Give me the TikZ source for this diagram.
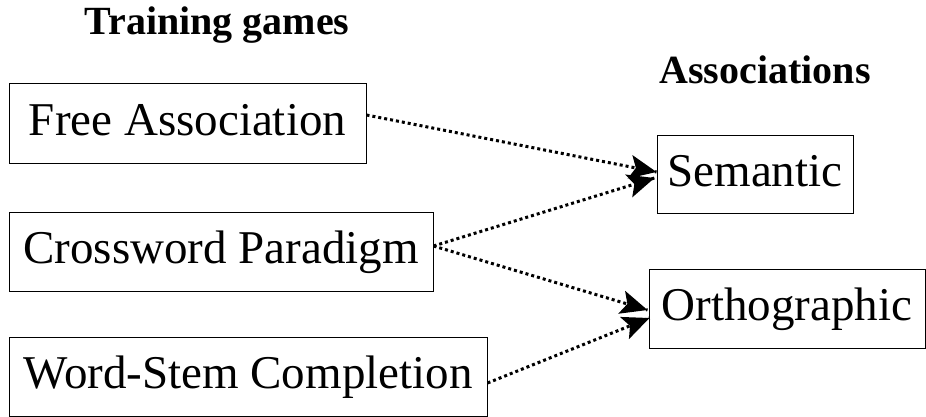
\documentclass[tikz,border=0pt]{standalone}
\usepackage{fontspec}
\setmainfont{Liberation Serif}
\usetikzlibrary{decorations.markings}
\begin{document}
\begin{tikzpicture}[x=1pt,y=1pt,
  gamebox/.style={draw, line width=1pt, inner sep=0pt, minimum height=79pt,
    font=\fontsize{47}{56}\selectfont, text height=33pt, text depth=9pt},
  heading/.style={font=\fontsize{40}{48}\selectfont\bfseries, inner sep=0pt, anchor=base},
  % dotted connector with a solid, notched arrowhead at its end
  link/.style={line width=3pt, dash pattern=on 3pt off 3pt,
    postaction={decorate},
    decoration={markings, mark=at position 1 with {
      \fill[solid, black] (0pt,0pt) -- (-27pt,12pt) -- (-21pt,0pt) -- (-27pt,-12pt) -- cycle;}}}]
  \useasboundingbox (0,0) rectangle (926,416);

  % column headings
  \node[heading] (thead) at (217,381) {Training games};
  \node[heading] (ahead) at (765,333) {Associations};

  % training games (left column)
  \node[gamebox, minimum width=357pt] (free) at (187.5,292.5) {Free Association};
  \node[gamebox, minimum width=424pt] (cross) at (221,164.5) {Crossword Paradigm};
  \node[gamebox, minimum width=478pt] (stem) at (248,39.5) {Word-Stem Completion};

  % association types (right column)
  \node[gamebox, minimum width=196pt, minimum height=78pt] (sem) at (755,242) {Semantic};
  \node[gamebox, minimum width=276pt] (orth) at (787,107.5) {Orthographic};

  % dotted links
  \draw[link] ([yshift=8.5pt]free.east) -- ([yshift=2pt]sem.west);
  \draw[link] ([yshift=5.5pt]cross.east) -- ([yshift=-4pt,xshift=-2pt]sem.west);
  \draw[link] ([yshift=5.5pt]cross.east) -- ([yshift=-1.5pt,xshift=-1pt]orth.west);
  \draw[link] ([yshift=-6.5pt]stem.east) -- ([yshift=-9.5pt,xshift=1pt]orth.west);
\end{tikzpicture}
\end{document}
